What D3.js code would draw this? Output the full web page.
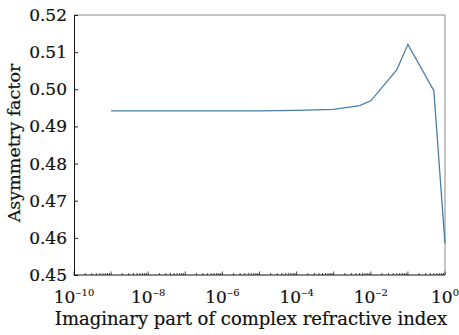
<!DOCTYPE html>
<html>
<head>
<meta charset="utf-8">
<script src="https://cdn.jsdelivr.net/npm/d3@7"></script>
<style>
  body { margin: 0; background: #fff; }
  svg text { font-family: "DejaVu Serif", serif; fill: #111; stroke: #111; stroke-width: 0.2px; }
</style>
</head>
<body>
<svg id="chart" width="459" height="335"></svg>
<script>
// Imaginary part of the refractive index (k) and the resulting asymmetry factor g
const imagIndex = [1e-9, 1e-8, 1e-7, 1e-6, 1e-5, 1e-4, 1e-3, 5e-3, 1e-2, 5e-2, 1e-1, 5e-1, 1];
const asymmetry = [0.4942, 0.4942, 0.4942, 0.4942, 0.4942, 0.4943, 0.4946, 0.4956, 0.4969, 0.5052, 0.5121, 0.4996, 0.4585];

const xTickExps = [-10, -8, -6, -4, -2, 0];
const yTicks = [0.45, 0.46, 0.47, 0.48, 0.49, 0.50, 0.51, 0.52];

const svg = d3.select("#chart");
const m = { left: 74, right: 14, top: 15, bottom: 60 };
const W = 459, H = 335;
const iw = W - m.left - m.right, ih = H - m.top - m.bottom;

const x = d3.scaleLog().domain([1e-10, 1]).range([0, iw]);
const y = d3.scaleLinear().domain([0.45, 0.52]).range([ih, 0]);

const g = svg.append("g").attr("transform", `translate(${m.left},${m.top})`);

// top and right frame in grey
g.append("path")
  .attr("d", `M0,0H${iw}V${ih}`)
  .attr("fill", "none").attr("stroke", "#8a8a8a").attr("stroke-width", 1);

// minor x ticks (2..9 within each decade), pointing inward
const minor = [];
for (let e = -10; e < 0; e++) for (let k = 2; k <= 9; k++) minor.push(k * Math.pow(10, e));
g.selectAll("line.minor").data(minor).join("line")
  .attr("class", "minor")
  .attr("x1", d => x(d)).attr("x2", d => x(d))
  .attr("y1", ih).attr("y2", ih - 2)
  .attr("stroke", "#222").attr("stroke-width", 0.8);

// major x ticks at every decade
const decades = d3.range(-10, 1).map(e => Math.pow(10, e));
g.selectAll("line.major").data(decades).join("line")
  .attr("class", "major")
  .attr("x1", d => x(d)).attr("x2", d => x(d))
  .attr("y1", ih).attr("y2", ih - 3.5)
  .attr("stroke", "#222").attr("stroke-width", 0.8);

// x tick labels as 10^n
const xl = g.selectAll("text.xt").data(xTickExps).join("text")
  .attr("class", "xt")
  .attr("x", d => x(Math.pow(10, d)))
  .attr("y", ih + 28)
  .attr("text-anchor", "middle")
  .style("font-size", "17px");
xl.append("tspan").text("10");
const sup = xl.append("tspan")
  .attr("dy", -7)
  .style("font-size", "10px")
  .style("stroke-width", "0.1px");
sup.filter(d => d < 0).append("tspan").style("font-size", "7.5px").text("\u2212");
sup.append("tspan").text(d => Math.abs(d));

// y axis
const yAxis = d3.axisLeft(y).tickValues(yTicks).tickFormat(d3.format(".2f"))
  .tickSizeInner(-4).tickSizeOuter(0).tickPadding(7);
const ya = g.append("g").call(yAxis);
ya.select(".domain").attr("stroke", "#111");
ya.selectAll(".tick line").attr("stroke", "#222");
ya.selectAll(".tick text").style("font-size", "17px").attr("fill", "#111");

// bottom spine
g.append("line").attr("x1", 0).attr("x2", iw).attr("y1", ih).attr("y2", ih)
  .attr("stroke", "#111").attr("stroke-width", 1);

// data line
const line = d3.line().x((d, i) => x(imagIndex[i])).y(d => y(d));
g.append("path").datum(asymmetry)
  .attr("d", line)
  .attr("fill", "none")
  .attr("stroke", "#4a7ea6")
  .attr("stroke-width", 1.3);

// axis titles
svg.append("text")
  .attr("x", 251)
  .attr("y", 325)
  .attr("text-anchor", "middle")
  .style("font-size", "18px")
  .text("Imaginary part of complex refractive index");

svg.append("text")
  .attr("transform", `translate(20,${m.top + ih / 2 - 2}) rotate(-90)`)
  .attr("text-anchor", "middle")
  .style("font-size", "17.5px")
  .text("Asymmetry factor");
</script>
</body>
</html>
